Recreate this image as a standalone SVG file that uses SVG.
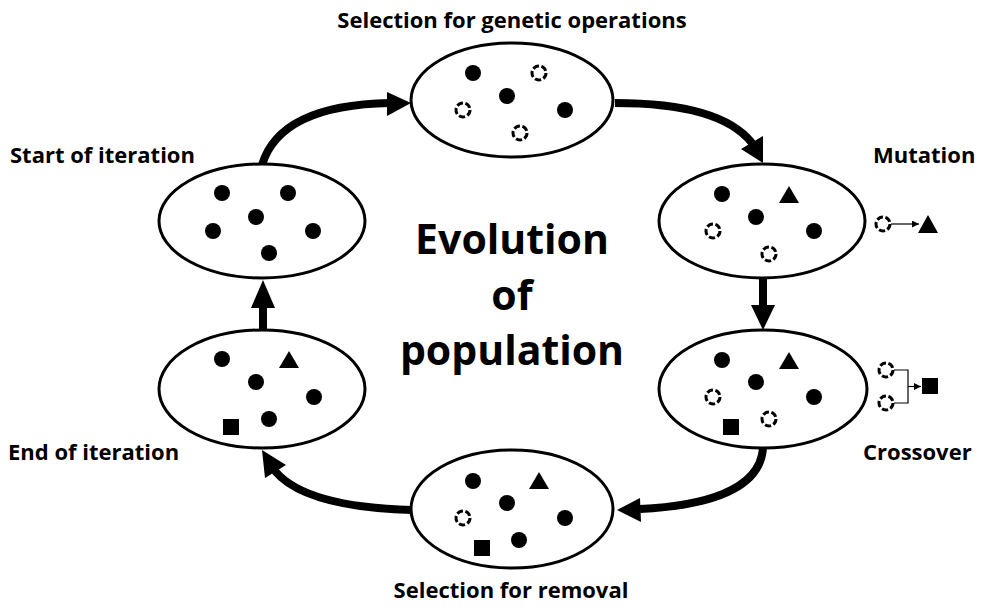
<svg xmlns="http://www.w3.org/2000/svg" width="988" height="609" viewBox="0 0 988 609">
<style>
.ell{fill:#fff;stroke:#000;stroke-width:3}
.dot{fill:#000}
.dash{fill:none;stroke:#000;stroke-width:3;stroke-dasharray:6.3 2.5}
.lbl{font-family:"Open Sans","Liberation Sans",sans-serif;font-weight:bold;font-size:22px;fill:#000}
.big{font-family:"Open Sans","Liberation Sans",sans-serif;font-weight:bold;font-size:41px;fill:#000;text-anchor:middle}
.shaft{fill:none;stroke:#000;stroke-width:8}
.thin{fill:none;stroke:#000;stroke-width:1.2}
</style>
<defs>
<circle id="d" r="8" class="dot"/>
<circle id="c" r="7" class="dash"/>
<polygon id="t" points="0,-9 10,8 -10,8" class="dot"/>
<rect id="s" x="-8" y="-8" width="16" height="16" class="dot"/>
<marker id="sm" viewBox="0 0 10 10" refX="10" refY="5" markerWidth="7" markerHeight="7" markerUnits="userSpaceOnUse" orient="auto"><path d="M0,0 L10,5 L0,10 z" fill="#000"/></marker>
</defs>
<rect width="988" height="609" fill="#fff"/>

<g id="connectors">
<path class="shaft" d="M262,165 Q280,105 390,103"/>
<polygon points="411,103 387,92 387,116"/>
<path class="shaft" d="M615,103 C680,103 730,115 752,143"/>
<polygon points="763,163 741,149 763,136"/>
<line class="shaft" x1="763" y1="278" x2="763" y2="306"/>
<polygon points="751,305 775,305 763,330"/>
<path class="shaft" d="M763,448 C760,492 700,506 640,509"/>
<polygon points="617,510 640,498 641,522"/>
<path class="shaft" d="M412,510 C340,508 295,495 275,471"/>
<polygon points="262,450 265,478 286,465"/>
<line class="shaft" x1="263" y1="331" x2="263" y2="306"/>
<polygon points="251,308 275,308 263,280"/>
</g>

<g id="start">
<ellipse class="ell" cx="262" cy="221" rx="103" ry="57"/>
<use href="#d" x="222" y="193"/><use href="#d" x="288" y="193"/><use href="#d" x="256" y="217"/>
<use href="#d" x="213" y="231"/><use href="#d" x="313" y="231"/><use href="#d" x="269" y="253"/>
<text class="lbl" x="10" y="163">Start of iteration</text>
</g>

<g id="selection-genetic">
<ellipse class="ell" cx="512" cy="100" rx="101" ry="57"/>
<use href="#d" x="473" y="73"/><use href="#c" x="539" y="73"/><use href="#d" x="507" y="96"/>
<use href="#c" x="463" y="110"/><use href="#d" x="565" y="110"/><use href="#c" x="520" y="133"/>
<text class="lbl" x="512" y="28" text-anchor="middle">Selection for genetic operations</text>
</g>

<g id="mutation">
<ellipse class="ell" cx="762" cy="221" rx="103" ry="57"/>
<use href="#d" x="722" y="194"/><use href="#t" x="789" y="195"/><use href="#d" x="756" y="217"/>
<use href="#c" x="713" y="231"/><use href="#d" x="814" y="231"/><use href="#c" x="769" y="254"/>
<use href="#c" x="883" y="224"/>
<line class="thin" x1="891" y1="224" x2="919" y2="224" marker-end="url(#sm)"/>
<polygon points="928,215 918,233 938,233" class="dot"/>
<text class="lbl" x="873" y="163">Mutation</text>
</g>

<g id="crossover">
<ellipse class="ell" cx="763" cy="389" rx="104" ry="59"/>
<use href="#d" x="722" y="360"/><use href="#t" x="789" y="361"/><use href="#d" x="756" y="382"/>
<use href="#c" x="713" y="397"/><use href="#d" x="814" y="397"/><use href="#s" x="731" y="427"/>
<use href="#c" x="769" y="419"/>
<use href="#c" x="886" y="370"/><use href="#c" x="886" y="403"/>
<polyline class="thin" points="894,370 908,370 908,403 894,403"/>
<line class="thin" x1="908" y1="386.5" x2="921" y2="386.5" marker-end="url(#sm)"/>
<rect x="922" y="378" width="16" height="16" class="dot"/>
<text class="lbl" x="863" y="460">Crossover</text>
</g>

<g id="selection-removal">
<ellipse class="ell" cx="512" cy="509" rx="101" ry="59"/>
<use href="#d" x="473" y="481"/><use href="#t" x="539" y="481"/><use href="#d" x="507" y="503"/>
<use href="#c" x="463" y="518"/><use href="#d" x="565" y="518"/><use href="#s" x="482" y="548"/>
<use href="#d" x="519" y="540"/>
<text class="lbl" x="511" y="598" text-anchor="middle">Selection for removal</text>
</g>

<g id="end">
<ellipse class="ell" cx="262" cy="389" rx="103" ry="59"/>
<use href="#d" x="222" y="359"/><use href="#t" x="289" y="360"/><use href="#d" x="256" y="382"/>
<use href="#d" x="314" y="397"/><use href="#s" x="231" y="427"/><use href="#d" x="269" y="419"/>
<text class="lbl" x="8" y="460">End of iteration</text>
</g>

<g id="center">
<text class="big" x="512" y="254">Evolution</text>
<text class="big" x="512" y="310">of</text>
<text class="big" x="512" y="365">population</text>
</g>
</svg>
